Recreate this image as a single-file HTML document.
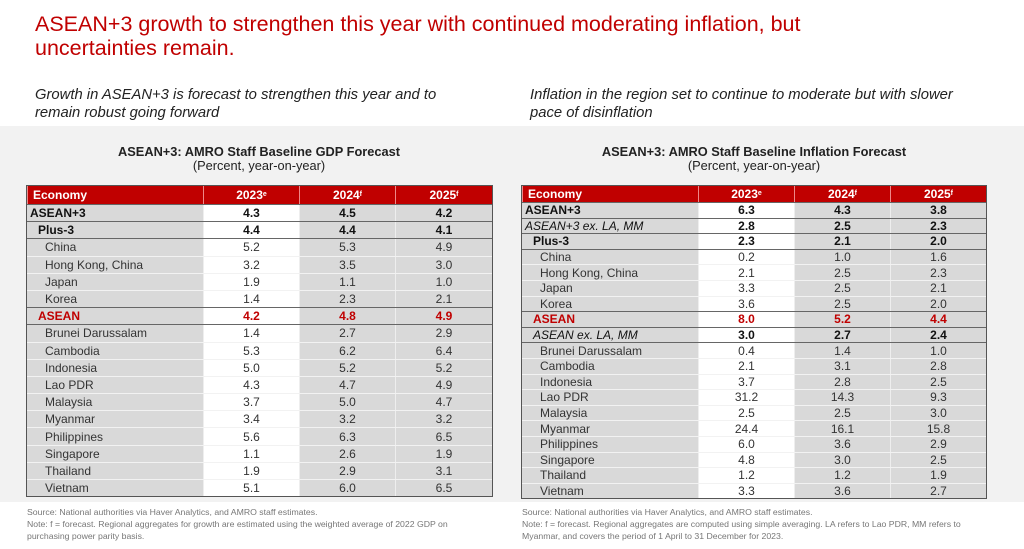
<!DOCTYPE html>
<html><head><meta charset="utf-8"><style>
*{margin:0;padding:0;box-sizing:border-box}
body{width:1024px;height:549px;background:#fff;font-family:"Liberation Sans",Arial,sans-serif;position:relative;overflow:hidden;color:#222}
.title{position:absolute;left:35px;top:12px;color:#c00000;font-size:21.5px;line-height:24px}
.sub{position:absolute;top:86px;font-style:italic;font-size:14.8px;line-height:18px;color:#222}
.band{position:absolute;left:0;top:126px;width:1024px;height:376px;background:#f2f2f2}
.tt{position:absolute;width:466px;text-align:center;font-size:12.8px;line-height:14px}
.tt b{display:block}
.tbl{position:absolute;border:1.5px solid #555;background:#d9d9d9}
.row{display:flex;border-top:1px solid #f2f2f2;font-size:12px;color:#333}
.row.hd{background:#c00000;color:#fff;font-weight:bold;border-top:none}
.row.g{border-top:1.5px solid #666}
.row div{display:flex;align-items:center;justify-content:center;border-left:1px solid #eee}
.row div:first-child{justify-content:flex-start;border-left:none}
.row div:nth-child(2){background:#fff}
.row.hd div:nth-child(2){background:#c00000}
.row.hd div{border-left:1px solid #e88}
.b{font-weight:bold;color:#111}
.r{color:#c00000;font-weight:bold}
.i div:first-child{font-style:italic;font-weight:normal}
.src{position:absolute;top:506px;font-size:8.7px;line-height:12px;color:#777}
sup{font-size:7px;vertical-align:4px;line-height:0}
</style></head><body>
<div class="title">ASEAN+3 growth to strengthen this year with continued moderating inflation, but<br>uncertainties remain.</div>
<div class="sub" style="left:35px">Growth in ASEAN+3 is forecast to strengthen this year and to<br>remain robust going forward</div>
<div class="sub" style="left:530px">Inflation in the region set to continue to moderate but with slower<br>pace of disinflation</div>
<div class="band"></div>
<div class="tt" style="left:26px;top:145px"><b>ASEAN+3: AMRO Staff Baseline GDP Forecast</b>(Percent, year-on-year)</div>
<div class="tt" style="left:521px;top:145px"><b>ASEAN+3: AMRO Staff Baseline Inflation Forecast</b>(Percent, year-on-year)</div>

<div class="tbl" style="left:26px;top:185px;width:467px">
<div class="row hd" style="height:18px"><div style="width:176px;padding-left:5px">Economy</div><div style="width:96px">2023<sup>e</sup></div><div style="width:96px">2024<sup>f</sup></div><div style="flex:1">2025<sup>f</sup></div></div>
<div id="L"></div>
</div>

<div class="tbl" style="left:521px;top:185px;width:466px">
<div class="row hd" style="height:16px"><div style="width:176px;padding-left:5px">Economy</div><div style="width:96px">2023<sup>e</sup></div><div style="width:96px">2024<sup>f</sup></div><div style="flex:1">2025<sup>f</sup></div></div>
<div id="R"></div>
</div>

<div class="src" style="left:27px">Source: National authorities via Haver Analytics, and AMRO staff estimates.<br>Note: f = forecast. Regional aggregates for growth are estimated using the weighted average of 2022 GDP on<br>purchasing power parity basis.</div>
<div class="src" style="left:522px">Source: National authorities via Haver Analytics, and AMRO staff estimates.<br>Note: f = forecast. Regional aggregates are computed using simple averaging. LA refers to Lao PDR, MM refers to<br>Myanmar, and covers the period of 1 April to 31 December for 2023.</div>

<script>
function build(id,rows,h){
 var s='';
 rows.forEach(function(r){
  var ind=r[1]==0?3:(r[1]==1?11:18);
  var cls='row'+(r[5]?' g':'')+(r[6]?' i':'');
  var vc=r[7]||'';
  s+='<div class="'+cls+'" style="height:'+h+'px"><div class="'+vc+'" style="width:176px;padding-left:'+ind+'px">'+r[0]+'</div><div class="'+vc+'" style="width:96px">'+r[2]+'</div><div class="'+vc+'" style="width:96px">'+r[3]+'</div><div class="'+vc+'" style="flex:1">'+r[4]+'</div></div>';
 });
 document.getElementById(id).innerHTML=s;
}
build('L',[
['ASEAN+3',0,'4.3','4.5','4.2',1,0,'b'],
['Plus-3',1,'4.4','4.4','4.1',1,0,'b'],
['China',2,'5.2','5.3','4.9',1],
['Hong Kong, China',2,'3.2','3.5','3.0'],
['Japan',2,'1.9','1.1','1.0'],
['Korea',2,'1.4','2.3','2.1'],
['ASEAN',1,'4.2','4.8','4.9',1,0,'r'],
['Brunei Darussalam',2,'1.4','2.7','2.9',1],
['Cambodia',2,'5.3','6.2','6.4'],
['Indonesia',2,'5.0','5.2','5.2'],
['Lao PDR',2,'4.3','4.7','4.9'],
['Malaysia',2,'3.7','5.0','4.7'],
['Myanmar',2,'3.4','3.2','3.2'],
['Philippines',2,'5.6','6.3','6.5'],
['Singapore',2,'1.1','2.6','1.9'],
['Thailand',2,'1.9','2.9','3.1'],
['Vietnam',2,'5.1','6.0','6.5']
],17.2);
build('R',[
['ASEAN+3',0,'6.3','4.3','3.8',1,0,'b'],
['ASEAN+3 ex. LA, MM',0,'2.8','2.5','2.3',1,1,'b'],
['Plus-3',1,'2.3','2.1','2.0',1,0,'b'],
['China',2,'0.2','1.0','1.6',1],
['Hong Kong, China',2,'2.1','2.5','2.3'],
['Japan',2,'3.3','2.5','2.1'],
['Korea',2,'3.6','2.5','2.0'],
['ASEAN',1,'8.0','5.2','4.4',1,0,'r'],
['ASEAN ex. LA, MM',1,'3.0','2.7','2.4',1,1,'b'],
['Brunei Darussalam',2,'0.4','1.4','1.0',1],
['Cambodia',2,'2.1','3.1','2.8'],
['Indonesia',2,'3.7','2.8','2.5'],
['Lao PDR',2,'31.2','14.3','9.3'],
['Malaysia',2,'2.5','2.5','3.0'],
['Myanmar',2,'24.4','16.1','15.8'],
['Philippines',2,'6.0','3.6','2.9'],
['Singapore',2,'4.8','3.0','2.5'],
['Thailand',2,'1.2','1.2','1.9'],
['Vietnam',2,'3.3','3.6','2.7']
],15.6);
</script>
</body></html>
